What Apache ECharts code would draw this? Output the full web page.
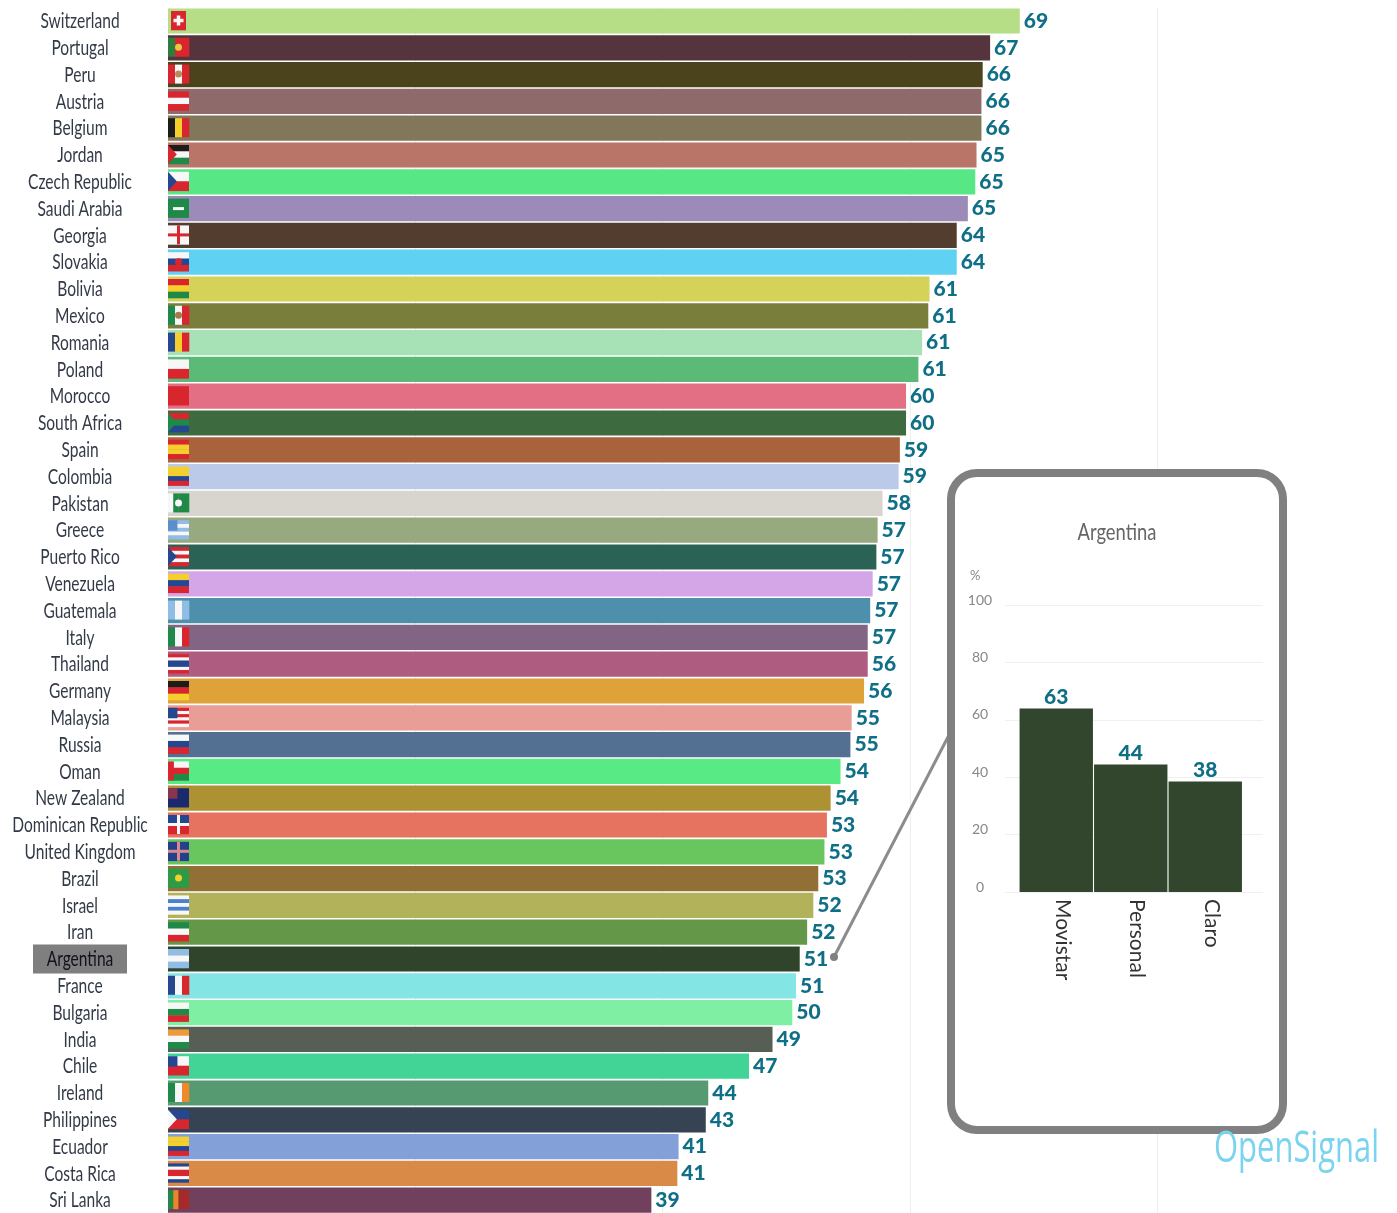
<!DOCTYPE html>
<html><head><meta charset="utf-8">
<style>html,body{margin:0;padding:0;background:#fff}#c{width:1397px;height:1213px;filter:blur(0.5px)}</style>
<script src="https://cdn.jsdelivr.net/npm/echarts@6/dist/echarts.min.js"></script>
</head><body><div id="c"></div>
<script>
const countries = ['Switzerland','Portugal','Peru','Austria','Belgium','Jordan','Czech Republic','Saudi Arabia','Georgia','Slovakia','Bolivia','Mexico','Romania','Poland','Morocco','South Africa','Spain','Colombia','Pakistan','Greece','Puerto Rico','Venezuela','Guatemala','Italy','Thailand','Germany','Malaysia','Russia','Oman','New Zealand','Dominican Republic','United Kingdom','Brazil','Israel','Iran','Argentina','France','Bulgaria','India','Chile','Ireland','Philippines','Ecuador','Costa Rica','Sri Lanka'];
const barValues = [68.9,66.5,65.9,65.8,65.8,65.4,65.3,64.7,63.8,63.8,61.6,61.5,61.0,60.7,59.7,59.7,59.2,59.1,57.8,57.4,57.3,57.0,56.8,56.6,56.6,56.3,55.3,55.2,54.4,53.6,53.3,53.1,52.6,52.2,51.7,51.1,50.8,50.5,48.9,47.0,43.7,43.5,41.3,41.2,39.1];
const printedValues = [69,67,66,66,66,65,65,65,64,64,61,61,61,61,60,60,59,59,58,57,57,57,57,57,56,56,55,55,54,54,53,53,53,52,52,51,51,50,49,47,44,43,41,41,39];
const barColors = ['#b5de87','#55343e','#4a431b','#8f6a6b','#82775b','#b87568','#57e885','#9c8ab9','#533d2f','#5fd2f3','#d4d259','#7a7e3b','#a6e2b5','#5cba77','#e26f84','#3e6a3f','#a8623c','#bccae9','#d7d5ce','#97a97e','#2a6355','#d4a6e8','#4e90ac','#826584','#ae5d80','#dea238','#e89d96','#537092','#58ea85','#ac9233','#e5735f','#69c55d','#926f35','#b2b25b','#649747','#30432b','#83e6e4','#7ff0a3','#565e56','#42d496','#569a72','#364353','#84a0d8','#da8a47','#71405c'];
const highlighted = 'Argentina';
const insetOperators = ['Movistar','Personal','Claro'];
const insetValues = [63.9,44.4,38.5];
const insetPrinted = [63,44,38];
const insetTicks = [0,20,40,60,80,100];
// dir, stripes, emblem, emblem colour
const R='#d9252e',W='#f7f7f7',G='#1f8a47',B='#24478f',Y='#f5cf2b',K='#1c1c1c',L='#8fbde6';
const flags = [
 ['h',[R],'cross',W],['v',['#2c7d3e',R,R],'disc','#e8c840'],['v',[R,W,R],'disc','#b98a5a'],['h',[R,W,R]],['v',[K,Y,R]],
 ['h',[K,W,G],'tri',R],['h',[W,R],'tri',B],['h',[G],'bar',W],['h',[W],'cross',R],['h',[W,B,R],'disc',R],
 ['h',[R,Y,G]],['v',[G,W,R],'disc','#a57a4a'],['v',[B,Y,R]],['h',[W,R]],['h',[R]],
 ['h',[R,G,B],'tri',G],['h',[R,Y,Y,R]],['h',[Y,Y,B,R]],['v',[W,G,G,G],'disc',W],['h',[L,W,L,W,L],'canton','#5a8fcc'],
 ['h',[R,W,R,W,R],'tri',B],['h',[Y,B,R]],['v',[L,W,L]],['v',[G,W,R]],['h',[R,W,B,B,W,R]],
 ['h',[K,R,Y]],['h',[R,W,R,W,R,W],'canton',B],['h',[W,B,R]],['h',[W,R,G],'hoist',R],['h',['#1b2a6e'],'canton','#8a3550'],
 ['h',[B,R],'cross',W],['h',['#24408a'],'cross','#d98a90'],['h',['#2d9a45'],'disc',Y],['h',[W,'#4a80d0',W,'#4a80d0',W]],['h',[G,W,R]],
 ['h',[L,W,L]],['v',[B,W,R]],['h',[W,G,R]],['h',['#ef9a3a',W,G]],['h',[W,R],'canton',B],
 ['v',[G,W,'#ef8a2a']],['h',[B,R],'tri',W],['h',[Y,Y,B,R]],['h',[B,W,R,R,W,B]],['v',[G,'#e8882a','#a52a2a','#a52a2a']]
];
const narrowFlags = ['Switzerland'];

function drawFlag(params, api){
  const i = params.dataIndex, f = flags[i];
  const p = api.coord([0, countries[i]]);
  const narrow = narrowFlags.includes(countries[i]);
  const w = narrow ? 15 : 21, h = 19, x = p[0] + (narrow ? 3 : 0), y = p[1] - h/2 - 0.5;
  const kids = [];
  const rect=(a,b,c,d,col)=>kids.push({type:'rect',shape:{x:a,y:b,width:c,height:d},style:{fill:col}});
  const n=f[1].length;
  f[1].forEach((col,k)=>{
    if(f[0]==='h') rect(x,y+h*k/n,w,h/n+0.3,col); else rect(x+w*k/n,y,w/n+0.3,h,col);
  });
  const e=f[2], c=f[3];
  if(e==='cross'){ const t=narrow?3.5:3; const cx=x+w/2, cy=y+h/2; const hw=narrow?5:w/2, hh=narrow?5:h/2;
    rect(cx-hw,cy-t/2,hw*2,t,c); rect(cx-t/2,cy-hh,t,hh*2,c);}
  if(e==='tri') kids.push({type:'polygon',shape:{points:[[x,y],[x+w*0.42,y+h/2],[x,y+h]]},style:{fill:c}});
  if(e==='disc') kids.push({type:'circle',shape:{cx:x+w/2,cy:y+h/2,r:3.5},style:{fill:c}});
  if(e==='bar') rect(x+5,y+h/2-1,w-10,3,c);
  if(e==='canton') rect(x,y,w*0.45,h*0.55,c);
  if(e==='hoist') rect(x,y,w*0.28,h,c);
  return {type:'group',children:kids};
}
const nameFont = 'Lato,sans-serif';
function drawName(params, api){
  const i = params.dataIndex, name = countries[i];
  const p = api.coord([0, name]);
  const x = p[0]-88, y = p[1]+0.5;
  const kids=[];
  if(name===highlighted) kids.push({type:'rect',shape:{x:x-47,y:y-15,width:94,height:29},style:{fill:'#7f7f7f'}});
  kids.push({type:'text',x:x,y:y,scaleX:0.74,style:{text:name,fill:name===highlighted?'#10131a':'#333a47',
    font:'21px '+nameFont,align:'center',verticalAlign:'middle'}});
  return {type:'group',children:kids};
}

const chart = echarts.init(document.getElementById('c'),null,{renderer:'canvas'});
const numFont = 'Lato,sans-serif';
const teal = '#0f6f87';
chart.setOption({
  animation:false,
  backgroundColor:'#fff',
  grid:[
    {left:168,top:7.6,width:989,height:1206,outerBoundsMode:'none'},
    {left:1005,top:605,width:258,height:287,z:10,outerBoundsMode:'none'},
    {left:1019,top:605,width:223.5,height:287,z:10,outerBoundsMode:'none'}
  ],
  xAxis:[
    {gridIndex:0,type:'value',min:0,max:80,interval:20,axisLabel:{show:false},axisLine:{show:false},axisTick:{show:false},
     splitLine:{lineStyle:{color:'#eeeeee',width:1}}},
    {gridIndex:1,type:'value',show:false,min:0,max:1},
    {gridIndex:2,type:'category',data:insetOperators,z:10,axisLine:{show:false},axisTick:{show:false},
     axisLabel:{rotate:-90,color:'#333',fontFamily:numFont,fontSize:21,margin:7,verticalAlign:'bottom',lineHeight:13}}
  ],
  yAxis:[
    {gridIndex:0,type:'category',inverse:true,data:countries,axisLine:{show:false},axisTick:{show:false},axisLabel:{show:false}},
    {gridIndex:1,type:'value',min:0,max:100,interval:20,z:10,axisLine:{show:false},axisTick:{show:false},
     axisLabel:{color:'#888',fontFamily:numFont,fontSize:14,margin:25,align:'center',verticalAlign:'bottom',lineHeight:10,
       customValues:insetTicks},
     splitLine:{lineStyle:{color:'#eef0f2',width:1}}},
    {gridIndex:2,type:'value',min:0,max:100,show:false}
  ],
  graphic:[
    {type:'line',z:5,shape:{x1:834,y1:957,x2:949,y2:735},style:{stroke:'#8c8c8c',lineWidth:3}},
    {type:'circle',z:5,shape:{cx:834,cy:957,r:4},style:{fill:'#808080'}},
    {type:'rect',z:6,shape:{x:951,y:473,width:332,height:657,r:26},style:{fill:'#fff',stroke:'#808080',lineWidth:8}},
    {type:'text',z:12,x:1117,y:533,scaleX:0.8,style:{text:'Argentina',fill:'#666',font:'23px '+nameFont,align:'center',verticalAlign:'middle'}},
    {type:'text',z:12,x:970,y:569,style:{text:'%',fill:'#888',fontFamily:numFont,fontSize:13}},
    {type:'text',z:12,x:1214,y:1128,scaleX:0.72,style:{text:'OpenSignal',fill:'#7ad3ef',font:'400 43px "Open Sans",sans-serif'}}
  ],
  series:[
    {type:'bar',xAxisIndex:0,yAxisIndex:0,barCategoryGap:'6%',z:2,
     data:barValues.map((v,i)=>({value:v,itemStyle:{color:barColors[i]}})),
     label:{show:true,position:'right',distance:4,color:teal,fontFamily:numFont,fontWeight:900,fontSize:21,
       formatter:p=>String(printedValues[p.dataIndex])}},
    {type:'custom',xAxisIndex:0,yAxisIndex:0,z:3,clip:false,silent:true,
     data:countries.map(c=>[0,c]),encode:{x:0,y:1},renderItem:drawFlag},
    {type:'custom',xAxisIndex:0,yAxisIndex:0,z:3,clip:false,silent:true,
     data:countries.map(c=>[0,c]),encode:{x:0,y:1},renderItem:drawName},
    {type:'bar',xAxisIndex:2,yAxisIndex:2,barCategoryGap:'1.5%',z:11,
     data:insetValues,itemStyle:{color:'#31462c'},
     label:{show:true,position:'top',distance:0,color:teal,fontFamily:numFont,fontWeight:900,fontSize:21,lineHeight:22,
       formatter:p=>String(insetPrinted[p.dataIndex])}}
  ]
});
</script></body></html>
